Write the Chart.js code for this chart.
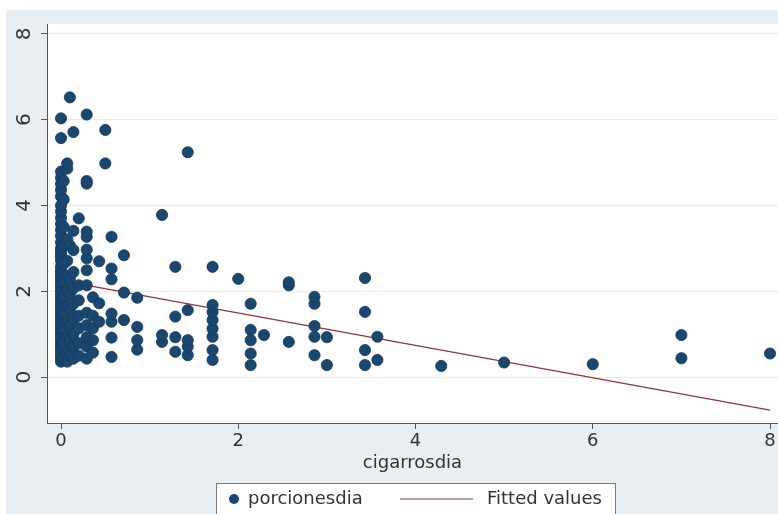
<!DOCTYPE html>
<html>
<head>
<meta charset="utf-8">
<title>porcionesdia vs cigarrosdia</title>
<script src="https://cdn.jsdelivr.net/npm/chart.js@4.4.1/dist/chart.umd.min.js"></script>
<style>
  html, body { margin: 0; padding: 0; background: #fff; }
  canvas { display: block; }
</style>
</head>
<body>
<canvas id="grafico" width="778" height="514"></canvas>
<script>
// valores de x (cigarros al dia) y, para cada uno, las porciones al dia
const cigarrosdia = [0, 0.03, 0.07, 0.1, 0.14, 0.2, 0.29, 0.36, 0.43, 0.5, 0.57, 0.71, 0.86,
  1.14, 1.29, 1.43, 1.71, 2, 2.14, 2.29, 2.57, 2.86, 3, 3.43, 3.57, 4.29, 5, 6, 7, 8];
const porcionesdia = [
  [0.36, 0.43, 0.5, 0.57, 0.64, 0.71, 0.79, 0.86, 0.93, 1, 1.07, 1.14, 1.21, 1.29, 1.36, 1.43,
   1.5, 1.57, 1.64, 1.71, 1.79, 1.86, 1.93, 2, 2.07, 2.14, 2.21, 2.29, 2.36, 2.43, 2.5, 2.57,
   2.71, 2.79, 2.86, 2.93, 3, 3.14, 3.29, 3.43, 3.57, 3.71, 3.86, 4, 4.21, 4.36, 4.5, 4.64,
   4.79, 5.57, 6.03],
  [0.43, 0.79, 1.14, 1.5, 1.86, 2.21, 2.64, 3.07, 3.5, 4.14, 4.57],
  [0.36, 0.57, 0.93, 1.29, 1.64, 2, 2.36, 2.71, 3.21, 4.86, 4.98],
  [0.5, 0.86, 1.21, 1.57, 1.93, 2.29, 3.07, 6.52],
  [0.43, 0.71, 1, 1.36, 1.71, 2.07, 2.45, 2.96, 3.41, 5.71],
  [0.5, 0.79, 1.14, 1.43, 1.79, 2.14, 3.7],
  [0.43, 0.71, 0.93, 1.21, 1.5, 2.14, 2.49, 2.77, 2.97, 3.27, 3.39, 4.51, 4.57, 6.12],
  [0.57, 0.86, 1.14, 1.43, 1.86],
  [1.29, 1.72, 2.7],
  [4.98, 5.76],
  [0.47, 0.92, 1.29, 1.48, 2.28, 2.53, 3.27],
  [1.33, 1.97, 2.84],
  [0.64, 0.86, 1.17, 1.85],
  [0.82, 0.98, 3.78],
  [0.59, 0.93, 1.41, 2.57],
  [0.51, 0.71, 0.86, 1.56, 5.24],
  [0.4, 0.63, 0.94, 1.13, 1.33, 1.52, 1.68, 2.57],
  [2.29],
  [0.28, 0.55, 0.86, 1.1, 1.71],
  [0.98],
  [0.82, 2.14, 2.21],
  [0.51, 0.94, 1.19, 1.71, 1.87],
  [0.28, 0.93],
  [0.28, 0.63, 1.52, 2.31],
  [0.4, 0.94],
  [0.26],
  [0.34],
  [0.3],
  [0.44, 0.98],
  [0.55]
];
// recta ajustada (extremos)
const ajusteX = [0, 8];
const ajusteY = [2.25, -0.77];
const ticksX = [0, 2, 4, 6, 8];
const ticksY = [0, 2, 4, 6, 8];

const puntos = [];
cigarrosdia.forEach((x, i) => {
  porcionesdia[i].forEach(y => puntos.push({ x: x, y: y }));
});
const recta = ajusteX.map((x, i) => ({ x: x, y: ajusteY[i] }));

const fuente = 'DejaVu Sans';
const gris = '#333333';

const fondo = {
  id: 'fondo',
  beforeDraw(chart) {
    const { ctx, chartArea: a, width, height } = chart;
    ctx.save();
    ctx.fillStyle = '#ffffff';
    ctx.fillRect(0, 0, width, height);
    ctx.fillStyle = '#e8eef1';
    ctx.fillRect(6, 10, width - 6, height - 10);
    ctx.fillStyle = '#ffffff';
    ctx.fillRect(a.left, a.top, width - a.left, a.bottom - a.top);
    ctx.restore();
  }
};

const leyenda = {
  id: 'leyenda',
  afterDraw(chart) {
    const ctx = chart.ctx;
    const ds = chart.data.datasets;
    const yMid = 499;
    ctx.save();
    ctx.fillStyle = '#ffffff';
    ctx.fillRect(216, 483, 400, 40);
    ctx.strokeStyle = '#7a7a7a';
    ctx.lineWidth = 1;
    ctx.strokeRect(216.5, 483.5, 399, 40);
    ctx.fillStyle = ds[0].backgroundColor;
    ctx.beginPath();
    ctx.arc(234, yMid, 5, 0, Math.PI * 2);
    ctx.fill();
    ctx.font = '18px "' + fuente + '"';
    ctx.fillStyle = gris;
    ctx.textBaseline = 'middle';
    ctx.fillText(ds[0].label, 248, yMid);
    ctx.strokeStyle = ds[1].borderColor;
    ctx.lineWidth = 1.2;
    ctx.beginPath();
    ctx.moveTo(400, yMid);
    ctx.lineTo(473, yMid);
    ctx.stroke();
    ctx.fillText(ds[1].label, 487, yMid);
    ctx.restore();
  }
};

new Chart(document.getElementById('grafico'), {
  type: 'scatter',
  data: {
    datasets: [{
      label: 'porcionesdia',
      data: puntos,
      pointRadius: 5.6,
      pointHoverRadius: 5.6,
      backgroundColor: '#1a476f',
      borderColor: '#143a5d',
      borderWidth: 0.8
    }, {
      label: 'Fitted values',
      data: recta,
      showLine: true,
      pointRadius: 0,
      borderColor: '#90353b',
      borderWidth: 1.2,
      fill: false
    }]
  },
  options: {
    responsive: false,
    animation: false,
    layout: { autoPadding: false, padding: { left: 0, top: 24, right: 0, bottom: 40 } },
    plugins: {
      legend: { display: false },
      tooltip: { enabled: false }
    },
    scales: {
      x: {
        type: 'linear',
        min: -0.158,
        max: 8.09,
        afterBuildTicks: s => { s.ticks = ticksX.map(v => ({ value: v })); },
        afterFit: s => { s.height = 51; },
        grid: { drawOnChartArea: false, drawTicks: true, tickLength: 6, tickColor: '#555' },
        border: { display: true, color: '#555', width: 1 },
        ticks: { font: { family: fuente, size: 18 }, color: gris, padding: 2, maxRotation: 0 },
        title: { display: true, text: 'cigarrosdia', font: { family: fuente, size: 18 }, color: gris, padding: 0 }
      },
      y: {
        type: 'linear',
        min: -1.07,
        max: 8.23,
        afterBuildTicks: s => { s.ticks = ticksY.map(v => ({ value: v })); },
        afterFit: s => { s.width = 47; },
        grid: { color: '#e6edf0', drawTicks: true, tickLength: 6, tickColor: '#555' },
        border: { display: true, color: '#555', width: 1 },
        ticks: { font: { family: fuente, size: 20 }, color: gris, padding: 10,
                 minRotation: 90, maxRotation: 90, crossAlign: 'center' }
      }
    }
  },
  plugins: [fondo, leyenda]
});
</script>
</body>
</html>
